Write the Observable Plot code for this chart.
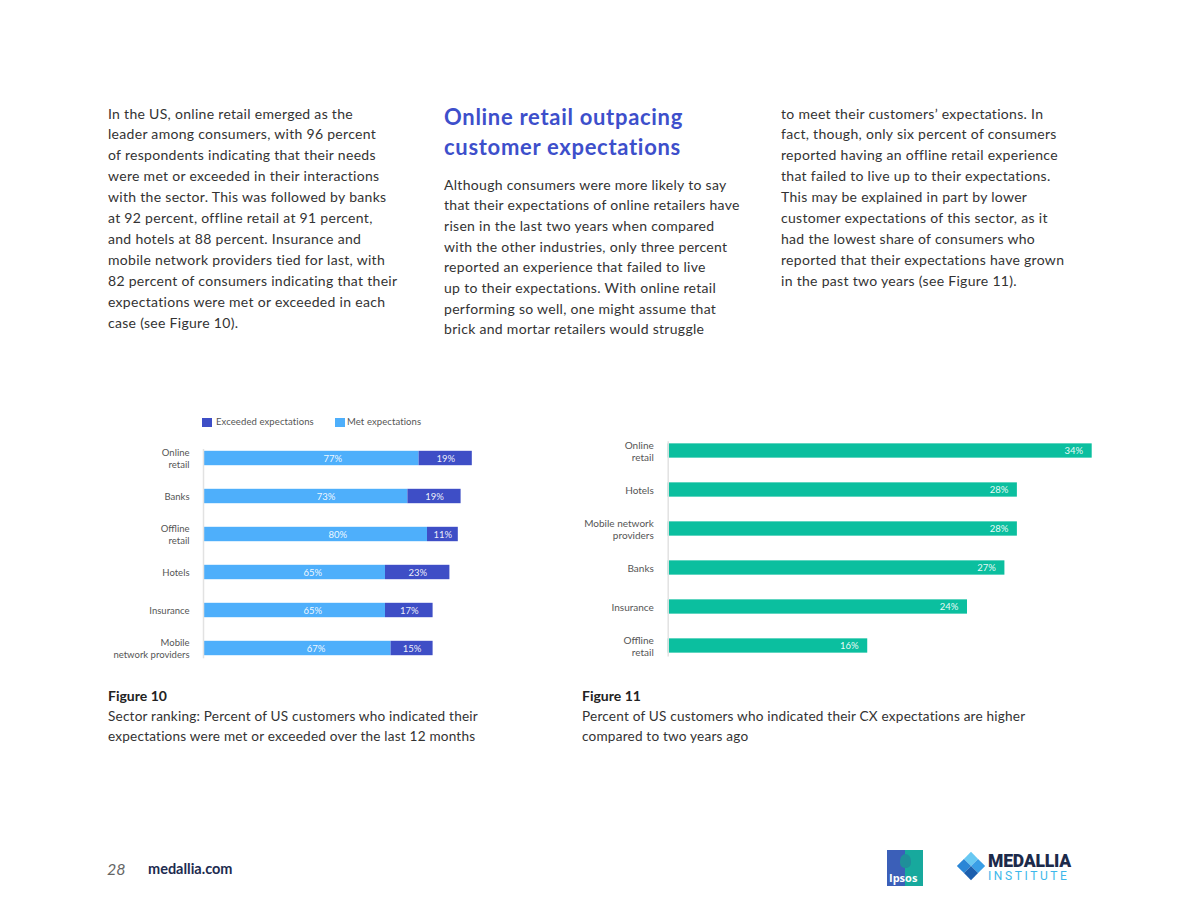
<!DOCTYPE html>
<html>
<head>
<meta charset="utf-8">
<script src="https://cdn.jsdelivr.net/npm/d3@7"></script>
<script src="https://cdn.jsdelivr.net/npm/@observablehq/plot@0.6"></script>
<style>
  html, body { margin: 0; padding: 0; background: #fff; }
  #page { position: relative; width: 1184px; height: 915px; background: #fff; overflow: hidden;
          font-family: Lato, "Open Sans", sans-serif; color: #333; }
  .abs { position: absolute; white-space: nowrap; }
  .body { font-size: 14px; line-height: 20.9px; color: #333; letter-spacing: 0.3px; }
  .head { font-size: 22px; line-height: 30px; font-weight: 700; color: #3d4fcb; letter-spacing: 0.7px; }
  .figt { font-size: 14px; line-height: 20px; font-weight: 700; color: #222; }
  .figs { font-size: 13.6px; line-height: 19.5px; color: #333; letter-spacing: 0.2px; }
  .leg { font-size: 9.5px; color: #555; line-height: 12px; letter-spacing: 0.1px; }
  .sw { position: absolute; width: 10px; height: 9px; }
</style>
</head>
<body>
<div id="page">
  <div class="abs body" style="left:108px; top:103.5px;">
    In the US, online retail emerged as the<br>
    leader among consumers, with 96 percent<br>
    of respondents indicating that their needs<br>
    were met or exceeded in their interactions<br>
    with the sector. This was followed by banks<br>
    at 92 percent, offline retail at 91 percent,<br>
    and hotels at 88 percent. Insurance and<br>
    mobile network providers tied for last, with<br>
    82 percent of consumers indicating that their<br>
    expectations were met or exceeded in each<br>
    case (see Figure 10).
  </div>
  <div class="abs head" style="left:444px; top:102px;">
    Online retail outpacing<br>customer expectations
  </div>
  <div class="abs body" style="left:444px; top:174.5px; line-height:20.7px;">
    Although consumers were more likely to say<br>
    that their expectations of online retailers have<br>
    risen in the last two years when compared<br>
    with the other industries, only three percent<br>
    reported an experience that failed to live<br>
    up to their expectations. With online retail<br>
    performing so well, one might assume that<br>
    brick and mortar retailers would struggle
  </div>
  <div class="abs body" style="left:781px; top:103.5px;">
    to meet their customers’ expectations. In<br>
    fact, though, only six percent of consumers<br>
    reported having an offline retail experience<br>
    that failed to live up to their expectations.<br>
    This may be explained in part by lower<br>
    customer expectations of this sector, as it<br>
    had the lowest share of consumers who<br>
    reported that their expectations have grown<br>
    in the past two years (see Figure 11).
  </div>

  <!-- legend for figure 10 -->
  <div class="sw" style="left:202px; top:418px; background:#3e4ec6;"></div>
  <div class="abs leg" style="left:216px; top:416px;">Exceeded expectations</div>
  <div class="sw" style="left:335px; top:418px; background:#4eaffb;"></div>
  <div class="abs leg" style="left:347px; top:416px;">Met expectations</div>

  <div id="chart1" class="abs" style="left:100px; top:430px;"></div>
  <div id="chart2" class="abs" style="left:570px; top:425px;"></div>

  <div class="abs figt" style="left:108px; top:686px;">Figure 10</div>
  <div class="abs figs" style="left:108px; top:707px;">
    Sector ranking: Percent of US customers who indicated their<br>
    expectations were met or exceeded over the last 12 months
  </div>
  <div class="abs figt" style="left:582px; top:686px;">Figure 11</div>
  <div class="abs figs" style="left:582px; top:707px;">
    Percent of US customers who indicated their CX expectations are higher<br>
    compared to two years ago
  </div>

  <!-- footer -->
  <div class="abs" style="left:107px; top:858px; font-size:16px; font-style:italic; color:#666; line-height:22px;">28</div>
  <div class="abs" style="left:148px; top:859px; font-size:14.5px; font-weight:700; color:#1d2b4f; line-height:20px;">medallia.com</div>

  <div class="abs" style="left:887px; top:850px; width:36px; height:36px; background:linear-gradient(to right,#3b5fb8 0,#3b5fb8 50%,#17a99d 50%,#17a99d 100%);">
    <div style="position:absolute; left:13px; top:4px; width:11px; height:14px; border-radius:50% 50% 40% 40%; background:#1f8f9a;"></div>
    <div style="position:absolute; left:2px; bottom:2px; font-size:11px; font-weight:700; color:#fff; font-family:'Open Sans',sans-serif; line-height:12px;">Ipsos</div>
  </div>
  <div class="abs" style="left:961px; top:856px; width:20px; height:20px; transform:rotate(45deg);">
    <div style="position:absolute; left:0; top:0; width:10px; height:10px; background:#68c8f2;"></div>
    <div style="position:absolute; left:10px; top:0; width:10px; height:10px; background:#3a9ee6;"></div>
    <div style="position:absolute; left:0; top:10px; width:10px; height:10px; background:#2a86d6;"></div>
    <div style="position:absolute; left:10px; top:10px; width:10px; height:10px; background:#1c5fae;"></div>
  </div>
  <div class="abs" style="left:988px; top:851px; font-size:17.5px; font-weight:900; color:#1c2a4a; font-family:Roboto,sans-serif; line-height:20px; letter-spacing:-0.2px;">MEDALLIA</div>
  <div class="abs" style="left:988px; top:869px; font-size:12px; color:#3db7ea; font-family:Roboto,sans-serif; line-height:14px; letter-spacing:2.6px;">INSTITUTE</div>
</div>

<script>
// ---------- Figure 10 data ----------
const sectors1 = ["Online retail", "Banks", "Offline retail", "Hotels", "Insurance", "Mobile network providers"];
const tickLabels1 = ["Online\nretail", "Banks", "Offline\nretail", "Hotels", "Insurance", "Mobile\nnetwork providers"];
const metValues = [77, 73, 80, 65, 65, 67];
const exceededValues = [19, 19, 11, 23, 17, 15];

// ---------- Figure 11 data ----------
const sectors2 = ["Online retail", "Hotels", "Mobile network providers", "Banks", "Insurance", "Offline retail"];
const tickLabels2 = ["Online\nretail", "Hotels", "Mobile network\nproviders", "Banks", "Insurance", "Offline\nretail"];
const higherValues = [34, 28, 28, 27, 24, 16];

const metColor = "#4eaffb";
const excColor = "#3e4ec6";
const tealColor = "#0bbf9f";

const data1 = sectors1.map((s, i) => ({ sector: s, met: metValues[i], exc: exceededValues[i] }));
const data2 = sectors2.map((s, i) => ({ sector: s, value: higherValues[i] }));

const chart1 = Plot.plot({
  width: 400,
  height: 240,
  marginLeft: 103,
  marginRight: 17,
  marginTop: 7.5,
  marginBottom: 0.7,
  style: { fontFamily: "Lato, sans-serif", fontSize: "9.5px", color: "#555", background: "transparent" },
  x: { domain: [0, 100], axis: null },
  y: { domain: sectors1, padding: 0, axis: null, label: null },
  marks: [
    Plot.barX(data1, { x1: 0, x2: "met", y: "sector", fill: metColor, insetTop: 11.8, insetBottom: 11.8 }),
    Plot.barX(data1, { x1: "met", x2: d => d.met + d.exc, y: "sector", fill: excColor, insetTop: 11.8, insetBottom: 11.8 }),
    Plot.ruleX([0], { stroke: "#e2e2e2", strokeWidth: 1.5, insetTop: 11.5, insetBottom: 11 }),
    Plot.axisY({
      label: null, tickSize: 0, tickPadding: 14, fontSize: 9.5, lineHeight: 1.2, fill: "#555",
      tickFormat: d => tickLabels1[sectors1.indexOf(d)]
    }),
    Plot.text(data1, { x: d => d.met * 0.6, y: "sector", text: d => d.met + "%", fill: "#fff", fillOpacity: 0.92, fontSize: 9.5 }),
    Plot.text(data1, { x: d => d.met + d.exc / 2, y: "sector", text: d => d.exc + "%", fill: "#fff", fillOpacity: 0.92, fontSize: 9.5 })
  ]
});
document.getElementById("chart1").appendChild(chart1);

const chart2 = Plot.plot({
  width: 530,
  height: 243,
  marginLeft: 97.7,
  marginRight: 8.3,
  marginTop: 4.35,
  marginBottom: 0.45,
  style: { fontFamily: "Lato, sans-serif", fontSize: "10px", color: "#555", background: "transparent" },
  x: { domain: [0, 34], axis: null },
  y: { domain: sectors2, padding: 0, axis: null, label: null },
  marks: [
    Plot.barX(data2, { x1: 0, x2: "value", y: "sector", fill: tealColor, insetTop: 12.35, insetBottom: 12.35 }),
    Plot.ruleX([0], { stroke: "#e2e2e2", strokeWidth: 1.5, insetTop: 12, insetBottom: 11 }),
    Plot.axisY({
      label: null, tickSize: 0, tickPadding: 14.4, fontSize: 10, lineHeight: 1.2, fill: "#555",
      tickFormat: d => tickLabels2[sectors2.indexOf(d)]
    }),
    Plot.text(data2, { x: "value", y: "sector", text: d => d.value + "%", textAnchor: "end", dx: -9, fill: "#fff", fillOpacity: 0.92, fontSize: 9.5 })
  ]
});
document.getElementById("chart2").appendChild(chart2);
</script>
</body>
</html>
